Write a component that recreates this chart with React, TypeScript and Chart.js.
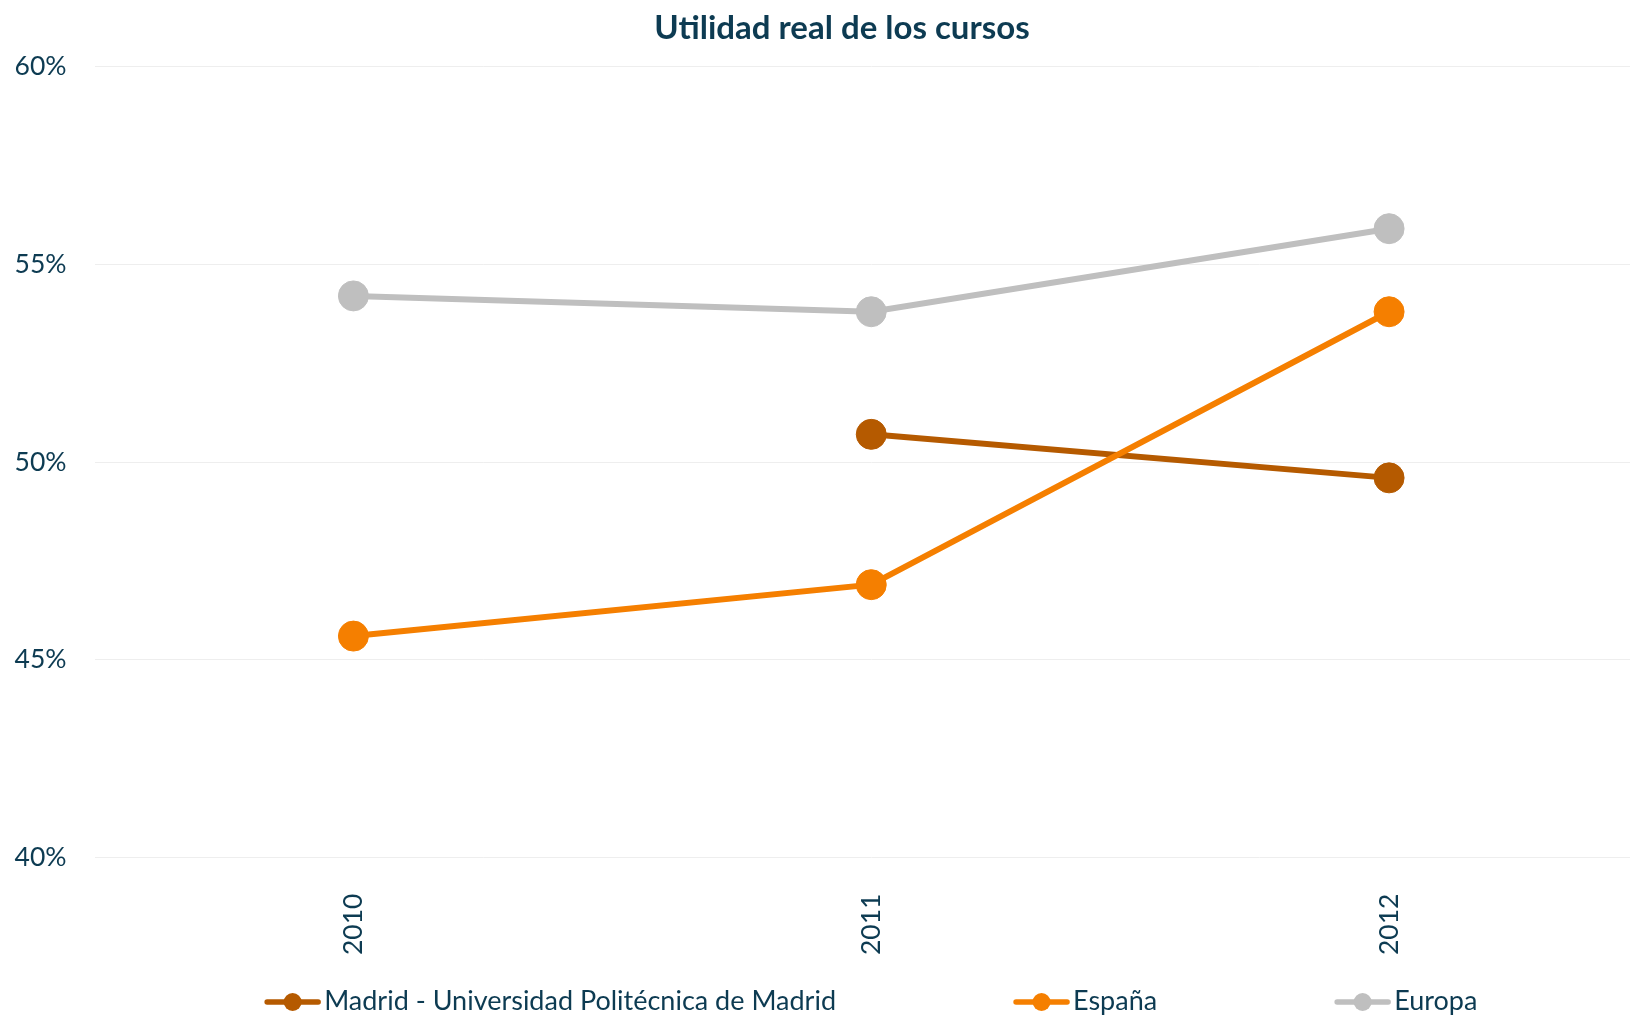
import React, { useEffect, useRef } from "react";
import { Chart, registerables } from "chart.js";

Chart.register(...registerables);

const years = ["2010", "2011", "2012"];
const madrid = [null, 50.7, 49.6];
const espana = [45.6, 46.9, 53.8];
const europa = [54.2, 53.8, 55.9];
const seriesNames = ["Madrid - Universidad Politécnica de Madrid", "España", "Europa"];
const titleText = "Utilidad real de los cursos";
const yMin = 40;
const yMax = 60;
const yStep = 5;

const W = 1684;
const H = 1015;
const TEXT = "#0d3b52";
const FONT = "Lato, 'Open Sans', sans-serif";
const C_MADRID = "#b55a00";
const C_ESPANA = "#f57f00";
const C_EUROPA = "#bfbfbf";

const titlePlugin = {
  id: "customTitle",
  afterDraw(chart: any) {
    const ctx = chart.ctx;
    ctx.save();
    ctx.font = `bold 33px ${FONT}`;
    ctx.fillStyle = TEXT;
    ctx.textAlign = "center";
    ctx.textBaseline = "middle";
    ctx.fillText(titleText, chart.width / 2, 28);
    ctx.restore();
  },
};

const legendPlugin = {
  id: "customLegend",
  afterDraw(chart: any) {
    const ctx = chart.ctx;
    const ca = chart.chartArea;
    ctx.save();
    ctx.font = `27px ${FONT}`;
    const lineW = 55;
    const gapText = 4;
    const itemGap = 178;
    const items = chart.data.datasets.map((ds: any) => ({
      text: ds.label,
      color: ds.borderColor,
      w: ctx.measureText(ds.label).width,
    }));
    const total =
      items.reduce((s: number, it: any) => s + lineW + gapText + it.w, 0) +
      itemGap * (items.length - 1);
    let x = (ca.left + ca.right) / 2 - total / 2;
    const y = 1002;
    for (const it of items) {
      ctx.strokeStyle = it.color;
      ctx.lineWidth = 5.5;
      ctx.lineCap = "round";
      ctx.beginPath();
      ctx.moveTo(x + 2, y);
      ctx.lineTo(x + lineW - 2, y);
      ctx.stroke();
      ctx.fillStyle = it.color;
      ctx.beginPath();
      ctx.arc(x + lineW / 2, y, 9, 0, Math.PI * 2);
      ctx.fill();
      ctx.fillStyle = TEXT;
      ctx.textBaseline = "alphabetic";
      ctx.textAlign = "left";
      ctx.fillText(it.text, x + lineW + gapText, y + 8);
      x += lineW + gapText + it.w + itemGap;
    }
    ctx.restore();
  },
};

export default function App() {
  const ref = useRef<HTMLCanvasElement | null>(null);
  useEffect(() => {
    if (!ref.current) return;
    const mk = (label: string, data: any[], color: string, order: number) => ({
      label,
      data,
      borderColor: color,
      backgroundColor: color,
      pointBackgroundColor: color,
      pointBorderColor: color,
      borderWidth: 6,
      pointRadius: 15,
      pointHoverRadius: 15,
      pointBorderWidth: 1,
      tension: 0,
      order,
    });
    const chart = new Chart(ref.current, {
      type: "line",
      data: {
        labels: years,
        datasets: [
          mk(seriesNames[0], madrid, C_MADRID, 1),
          mk(seriesNames[1], espana, C_ESPANA, 0),
          mk(seriesNames[2], europa, C_EUROPA, 2),
        ],
      },
      options: {
        responsive: false,
        animation: false,
        devicePixelRatio: 1,
        layout: { padding: { left: 0, right: 36, top: 66.5, bottom: 0 } },
        plugins: {
          legend: { display: false },
          tooltip: { enabled: false },
          title: { display: false },
        },
        scales: {
          x: {
            offset: true,
            grid: { display: false, drawTicks: false },
            border: { display: false },
            ticks: {
              color: TEXT,
              font: { family: FONT, size: 26.5 },
              minRotation: 90,
              maxRotation: 90,
              padding: 36,
            },
            afterFit(scale: any) {
              scale.height = 157.4;
            },
          },
          y: {
            min: yMin,
            max: yMax,
            grid: { color: "#eeeeee", lineWidth: 1, drawTicks: false },
            border: { display: false },
            ticks: {
              stepSize: yStep,
              color: TEXT,
              font: { family: FONT, size: 26.5 },
              padding: 28,
              callback: (v: any) => `${v}%`,
            },
            afterFit(scale: any) {
              scale.width = 94.5;
            },
          },
        },
      },
      plugins: [titlePlugin, legendPlugin],
    });
    return () => chart.destroy();
  }, []);
  return (
    <div
      style={{
        position: "fixed",
        left: 0,
        top: 0,
        width: 1630,
        height: 1015,
        overflow: "hidden",
        background: "#ffffff",
      }}
    >
      <canvas ref={ref} width={W} height={H} style={{ display: "block", width: W, height: H }} />
    </div>
  );
}
